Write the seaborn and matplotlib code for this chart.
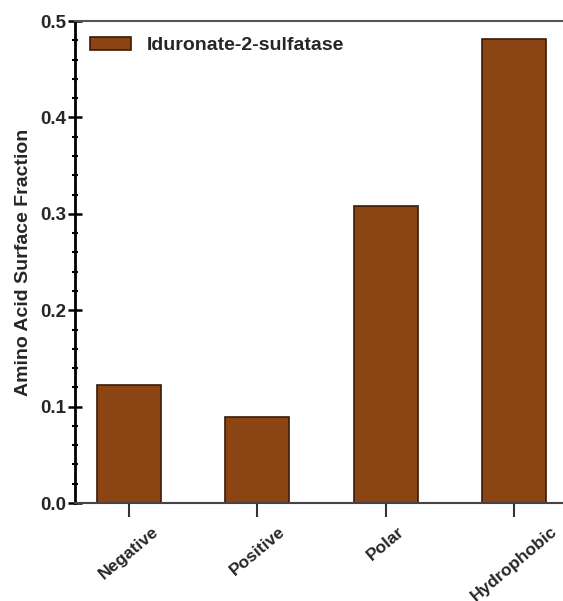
import matplotlib
matplotlib.use("Agg")
import matplotlib.pyplot as plt
import seaborn as sns
import pandas as pd
from matplotlib.ticker import MultipleLocator

# dados
categories = ["Negative", "Positive", "Polar", "Hydrophobic"]
fractions = [0.122, 0.089, 0.308, 0.481]
series_name = "Iduronate-2-sulfatase"

df = pd.DataFrame({"category": categories, "fraction": fractions})

sns.set_theme(style="white")
plt.rcParams['font.family'] = ['Liberation Sans', 'DejaVu Sans']
plt.rcParams['font.weight'] = 'bold'

fig = plt.figure(figsize=(5.63, 6.01), dpi=100)
ax = fig.add_axes([0.133, 0.163, 0.867, 0.802])

sns.barplot(data=df, x="category", y="fraction", color="#8B4513",
            width=0.5, edgecolor="#3a1a08", linewidth=1.2, saturation=1,
            label=series_name, ax=ax)

ax.set_ylim(0, 0.5)
ax.set_xlim(-0.42, 3.38)
ax.yaxis.set_minor_locator(MultipleLocator(0.02))
ax.set_yticks([0, 0.1, 0.2, 0.3, 0.4, 0.5])
ax.set_yticklabels(["0.0", "0.1", "0.2", "0.3", "0.4", "0.5"])

ax.tick_params(axis="y", which="major", direction="inout", length=10, width=1.8,
               color="black", labelsize=13.5, pad=1, left=True)
ax.tick_params(axis="y", which="minor", direction="inout", length=5, width=1.5,
               color="black", left=True)
ax.tick_params(axis="x", which="major", direction="out", length=10, width=1.5,
               color="#333333", labelsize=12.5, pad=5, bottom=True)

for lab in ax.get_xticklabels():
    lab.set_rotation(40)
    lab.set_ha("center")
    lab.set_fontweight("bold")
for lab in ax.get_yticklabels():
    lab.set_fontweight("bold")

ax.set_xlabel("")
ax.set_ylabel("Amino Acid Surface Fraction", fontsize=14, fontweight="bold", labelpad=6)

ax.spines["left"].set_color("black")
ax.spines["left"].set_linewidth(2)
ax.spines["bottom"].set_color("#444444")
ax.spines["bottom"].set_linewidth(1.5)
ax.spines["top"].set_color("#555555")
ax.spines["top"].set_linewidth(1.5)
ax.spines["right"].set_visible(False)

leg = ax.legend(loc="upper left", frameon=False, prop={"weight": "bold", "size": 14},
                handlelength=2.1, handleheight=0.72, handletextpad=0.8,
                borderaxespad=0.4, bbox_to_anchor=(0.0, 1.0))

fig.savefig("out.png", dpi=100)
